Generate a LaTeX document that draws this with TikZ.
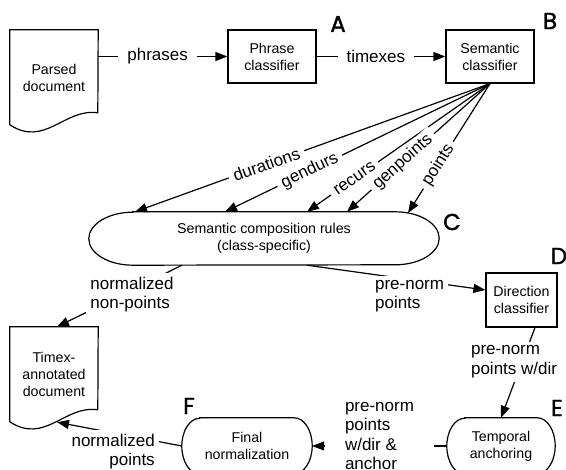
\documentclass[tikz,border=0pt]{standalone}
\usepackage{fontspec}
\setmainfont{Liberation Sans}
\newfontfamily\letterfont[FakeBold=1.5]{Poppins}
\usetikzlibrary{arrows.meta,calc}
\newcommand\bxfont{\fontsize{14.2}{17}\selectfont}
\newcommand\lbfont{\fontsize{17}{19.5}\selectfont}
\newcommand\ltfont{\letterfont\fontsize{23}{23}\selectfont}
\newcommand\docoutline[1]{%
  \draw[line] (#1.north west) -- (#1.north east) -- ($(#1.north west)+(88,83)$)
    .. controls ($(#1.north west)+(55,78)$) and ($(#1.north west)+(35,118)$) .. ($(#1.north west)+(0,95)$) -- cycle;}
\newcommand\termoutline[3]{%
  \draw[line] ([xshift=#2pt]#1.north west) -- ([xshift=-#2pt]#1.north east)
    arc[start angle=-90,end angle=90,x radius=#2,y radius=#3]
    -- ([xshift=#2pt]#1.south west)
    arc[start angle=90,end angle=270,x radius=#2,y radius=#3] -- cycle;}
\begin{document}
\begin{tikzpicture}[x=1pt,y=-1pt,
  line/.style={line width=1.2pt},
  arr/.style={line, -{Triangle[length=12pt,width=9pt]}},
  box/.style={draw, line width=1.2pt, minimum width=88pt, minimum height=53pt, align=center, font=\bxfont, inner sep=0pt},
  plain/.style={align=center, font=\bxfont, inner sep=0pt},
  lab/.style={fill=white, font=\lbfont, inner xsep=9pt, inner ysep=2pt},
  slab/.style={lab, sloped, inner xsep=5pt},
  mlab/.style={fill=white, font=\lbfont, align=left, inner sep=4pt},
  letter/.style={font=\ltfont, inner sep=0pt}]
\fill[white] (0,0) rectangle (566,470);
\useasboundingbox (0,0) rectangle (566,470);

% nodes
\node[plain, minimum width=88pt, minimum height=95pt] (pd) at (54,77.5) {Parsed\\document};
\docoutline{pd}
\node[box] (pc) at (272,56.5) {Phrase\\classifier};
\node[box] (sc) at (490,56.5) {Semantic\\classifier};
\node[plain, minimum width=350pt, minimum height=53pt] (scr) at (264,238.5) {Semantic composition rules\\(class-specific)};
\termoutline{scr}{44}{26.5}
\node[box, minimum width=71pt, minimum height=54pt] (dir) at (521.5,300) {Direction\\classifier};
\node[plain, minimum width=108pt, minimum height=56pt] (tmp) at (501,446) {Temporal\\anchoring};
\termoutline{tmp}{18}{28}
\node[plain, minimum width=130pt, minimum height=56pt] (fin) at (247,446) {Final\\normalization};
\termoutline{fin}{18}{28}
\node[plain, minimum width=88pt, minimum height=95pt] (tx) at (54,374.5) {Timex-\\annotated\\document};
\docoutline{tx}

% letters
\node[letter] (la) at (338,24) {A};
\node[letter] (lb) at (550,21) {B};
\node[letter] (lc) at (452,222) {C};
\node[letter] (ld) at (559,256) {D};
\node[letter] (le) at (557,408) {E};
\node[letter] (lf) at (189,406) {F};

% connectors
\draw[arr] (pd.east |- pc.west) -- node[lab,pos=0.46]{phrases} (pc.west);
\draw[arr] (pc.east) -- node[lab,pos=0.46]{timexes} (sc.west);
\draw[arr] (sc.south) -- node[slab,pos=0.63]{durations} ([xshift=-129pt]scr.north);
\draw[arr] (sc.south) -- node[slab,pos=0.68]{gendurs} ([xshift=-39pt]scr.north);
\draw[arr] (sc.south) -- node[slab,pos=0.74]{recurs} ([xshift=43pt]scr.north);
\draw[arr] (sc.south) -- node[slab,pos=0.61]{genpoints} ([xshift=83pt]scr.north);
\draw[arr] (sc.south) -- node[slab,pos=0.63]{points} ([xshift=144pt,yshift=-1.2pt]scr.north);
\draw[arr] ([xshift=-82pt]scr.south) -- node[mlab,pos=0.4,yshift=-5pt]{normalized\\non-points} ([xshift=3pt]tx.north);
\draw[arr] ([xshift=43pt]scr.south) -- node[mlab,pos=0.575,yshift=-16.5pt]{pre-norm\\points} ([yshift=10pt]dir.west);
\draw[arr] ([xshift=13.5pt]dir.south) -- node[mlab,pos=0.38,xshift=-8pt]{pre-norm\\points w/dir} (tmp.north);
\draw[arr] (tmp.west) -- node[mlab,pos=0.5,yshift=10pt,inner xsep=20pt]{pre-norm\\points\\w/dir \&\\anchor} (fin.east);
\draw[arr] (fin.west) -- node[mlab,align=right,pos=0.55,yshift=-18.5pt]{normalized\\points} ([xshift=3pt]tx.south);
\end{tikzpicture}
\end{document}
